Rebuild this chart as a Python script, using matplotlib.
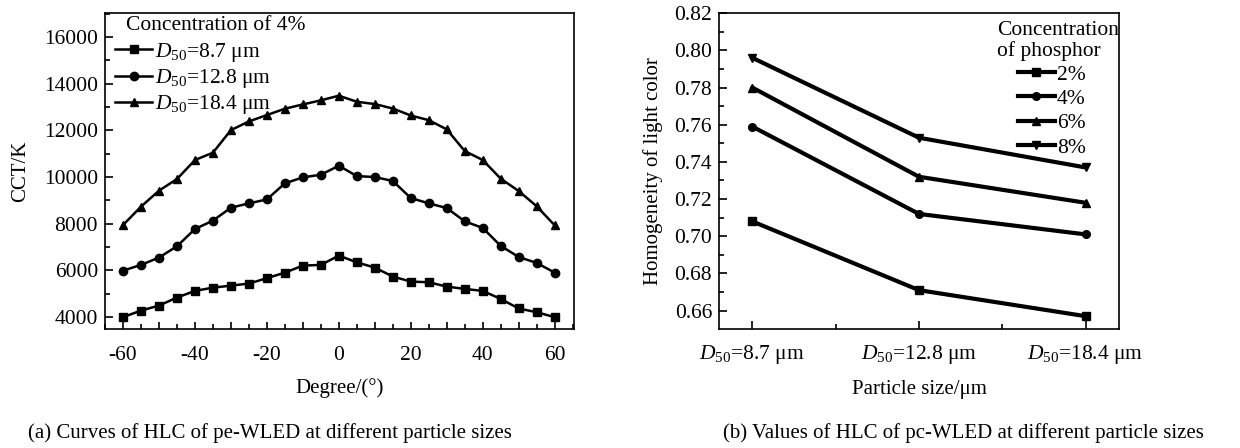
import matplotlib
matplotlib.use('Agg')
import matplotlib.pyplot as plt
from matplotlib.ticker import MultipleLocator, FixedLocator, FuncFormatter

plt.rcParams['font.family'] = ['Liberation Serif', 'DejaVu Serif']
plt.rcParams['mathtext.fontset'] = 'custom'
plt.rcParams['mathtext.rm'] = 'Liberation Serif'
plt.rcParams['mathtext.it'] = 'Liberation Serif:italic'
plt.rcParams['font.size'] = 15.5

## (a) CCT vs angle
degrees = list(range(-60, 61, 5))
cct_8_7 = [3990, 4270, 4485, 4830, 5115, 5255, 5340, 5430, 5660, 5900, 6200, 6230, 6630,
           6340, 6115, 5730, 5515, 5485, 5300, 5200, 5115, 4770, 4360, 4200, 3990]
cct_12_8 = [5985, 6230, 6545, 7030, 7770, 8130, 8685, 8870, 9040, 9730, 9985, 10100, 10485,
            10040, 10000, 9830, 9100, 8870, 8670, 8100, 7815, 7045, 6570, 6315, 5900]
cct_18_4 = [7940, 8730, 9415, 9915, 10730, 11045, 12015, 12385, 12660, 12930, 13115, 13290, 13490,
            13230, 13130, 12940, 12640, 12440, 12045, 11115, 10730, 9930, 9400, 8745, 7930]
labels_a = [r'$D_{50}$=8.7 μm', r'$D_{50}$=12.8 μm', r'$D_{50}$=18.4 μm']

## (b) homogeneity vs particle size
sizes = [r'$D_{50}$=8.7 μm', r'$D_{50}$=12.8 μm', r'$D_{50}$=18.4 μm']
hlc_2 = [0.708, 0.671, 0.657]
hlc_4 = [0.759, 0.712, 0.701]
hlc_6 = [0.780, 0.732, 0.718]
hlc_8 = [0.796, 0.753, 0.737]
conc_labels = ['2%', '4%', '6%', '8%']

fig = plt.figure(figsize=(12.4, 4.48), dpi=100)

# left panel
ax1 = fig.add_axes([0.0847, 0.2656, 0.378, 0.705])
markers_a = ['s', 'o', '^']
for ys, m, lab in zip([cct_8_7, cct_12_8, cct_18_4], markers_a, labels_a):
    ax1.plot(degrees, ys, color='black', lw=1.8, marker=m, ms=6, label=lab)
ax1.set_xlim(-65, 65.3)
ax1.set_ylim(3480, 17030)
ax1.xaxis.set_major_locator(MultipleLocator(10))
ax1.xaxis.set_minor_locator(MultipleLocator(5))
ax1.xaxis.set_major_formatter(FuncFormatter(lambda v, p: '%d' % v if v % 20 == 0 else ''))
ax1.yaxis.set_major_locator(MultipleLocator(2000))
ax1.yaxis.set_minor_locator(MultipleLocator(1000))
ax1.tick_params(which='both', direction='in', top=False, right=False, labelsize=15.5)
ax1.tick_params(which='major', length=6, width=1.2)
ax1.tick_params(which='minor', length=3.5, width=1.2)
ax1.tick_params(axis='x', which='major', length=5, pad=12)
ax1.tick_params(axis='y', pad=5)
ax1.set_xlabel('Degree/(°)', fontsize=15, labelpad=10)
ax1.set_ylabel('CCT/K', fontsize=15, labelpad=10)
for s in ax1.spines.values():
    s.set_linewidth(1.2)
ax1.text(0.045, 0.99, 'Concentration of 4%', transform=ax1.transAxes,
         ha='left', va='top', fontsize=15.5)
ax1.legend(loc='upper left', bbox_to_anchor=(-0.01, 0.96), frameon=False,
           fontsize=15.5, handlelength=1.7, handletextpad=0.15, labelspacing=0.15,
           borderpad=0.2)

# right panel
ax2 = fig.add_axes([0.5798, 0.2656, 0.3226, 0.705])
markers_b = ['s', 'o', '^', 'v']
xs = list(range(len(sizes)))
for ys, m, lab in zip([hlc_2, hlc_4, hlc_6, hlc_8], markers_b, conc_labels):
    ax2.plot(xs, ys, color='black', lw=3, marker=m, ms=5.5, label=lab)
ax2.set_xlim(-0.2, 2.2)
ax2.set_ylim(0.6501, 0.82)
ax2.xaxis.set_major_locator(FixedLocator(xs))
ax2.xaxis.set_minor_locator(FixedLocator([0.5, 1.5]))
ax2.set_xticklabels(sizes)
ax2.yaxis.set_major_locator(MultipleLocator(0.02))
ax2.yaxis.set_minor_locator(MultipleLocator(0.01))
ax2.yaxis.set_major_formatter(FuncFormatter(lambda v, p: '%.2f' % v))
ax2.tick_params(which='both', direction='in', top=False, right=False, labelsize=15.5)
ax2.tick_params(which='major', length=6, width=1.2)
ax2.tick_params(which='minor', length=3.5, width=1.2)
ax2.tick_params(axis='x', which='major', pad=10)
ax2.tick_params(axis='y', pad=5)
ax2.set_xlabel('Particle size/μm', fontsize=15, labelpad=10)
ax2.set_ylabel('Homogeneity of light color', fontsize=15, labelpad=8)
for s in ax2.spines.values():
    s.set_linewidth(1.2)
ax2.text(0.695, 0.975, 'Concentration\nof phosphor', transform=ax2.transAxes,
         ha='left', va='top', fontsize=15.5, linespacing=1.1)
ax2.legend(loc='upper left', bbox_to_anchor=(0.71, 0.885), frameon=False,
           fontsize=15.5, handlelength=1.7, handletextpad=0.1, labelspacing=0.2,
           borderpad=0.2)

# captions
fig.text(270 / 1240, 1 - 433 / 448, '(a) Curves of HLC of pe-WLED at different particle sizes',
         ha='center', va='center', fontsize=15)
fig.text(963 / 1240, 1 - 433 / 448, '(b) Values of HLC of pc-WLED at different particle sizes',
         ha='center', va='center', fontsize=15)

fig.savefig('out.png', dpi=100)
